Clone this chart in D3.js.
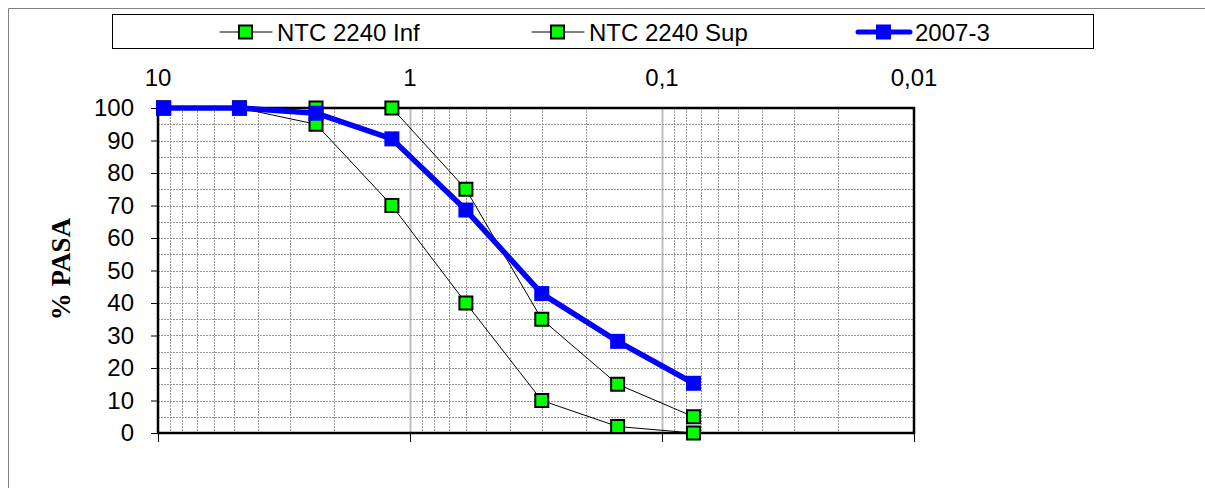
<!DOCTYPE html>
<html>
<head>
<meta charset="utf-8">
<script src="https://cdn.jsdelivr.net/npm/d3@7"></script>
<style>
  body { margin: 0; background: #fff; }
  svg { display: block; font-family: Arial, "Liberation Sans", sans-serif; }
</style>
</head>
<body>
<div id="vis"></div>
<script>
// sieve openings (mm) and % passing
var sieves = [9.5, 4.75, 2.36, 1.18, 0.6, 0.3, 0.15, 0.075];
var ntcInf = [100, 100, 95, 70, 40, 10, 2, 0];
var ntcSup = [100, 100, 100, 100, 75, 35, 15, 5];
var muestra = [100, 100, 98.4, 90.5, 68.6, 42.9, 28.2, 15.3];
var seriesNames = ["NTC 2240 Inf", "NTC 2240 Sup", "2007-3"];
var decadeTicks = [10, 1, 0.1, 0.01];
var decadeLabels = ["10", "1", "0,1", "0,01"];
var yTicks = [0, 10, 20, 30, 40, 50, 60, 70, 80, 90, 100];

var width = 1205, height = 488;
var plot = {left: 158, right: 914, top: 108, bottom: 433};

var svg = d3.select("#vis").append("svg")
    .attr("width", width)
    .attr("height", height);

var x = d3.scaleLog().domain([10, 0.01]).range([plot.left, plot.right]);
var y = d3.scaleLinear().domain([0, 100]).range([plot.bottom, plot.top]);

// outer chart frame (only top and left edges visible)
svg.append("path")
    .attr("d", "M8.5,488 L8.5,8.5 L1205,8.5")
    .attr("fill", "none")
    .attr("stroke", "#808080")
    .attr("stroke-width", 1);

// grid
var grid = svg.append("g");
var minor = [];
[1, 0.1, 0.01].forEach(function(dec){
    for (var k = 2; k <= 9; k++) minor.push(dec * k);
});
grid.selectAll(".vminor").data(minor).enter()
    .append("line")
    .attr("x1", function(d){ return Math.round(x(d)) + 0.5; })
    .attr("x2", function(d){ return Math.round(x(d)) + 0.5; })
    .attr("y1", plot.top).attr("y2", plot.bottom)
    .attr("stroke", "#9a9a9a")
    .attr("stroke-dasharray", "2,1");
grid.selectAll(".vmajor").data([1, 0.1]).enter()
    .append("line")
    .attr("x1", function(d){ return Math.round(x(d)) + 0.5; })
    .attr("x2", function(d){ return Math.round(x(d)) + 0.5; })
    .attr("y1", plot.top).attr("y2", plot.bottom)
    .attr("stroke", "#bdbdbd")
    .attr("stroke-width", 2);
grid.selectAll(".h").data(d3.range(5, 100, 5)).enter()
    .append("line")
    .attr("x1", plot.left).attr("x2", plot.right)
    .attr("y1", function(d){ return Math.round(y(d)) + 0.5; })
    .attr("y2", function(d){ return Math.round(y(d)) + 0.5; })
    .attr("stroke", "#9a9a9a")
    .attr("stroke-dasharray", "2,1");

// plot border
svg.append("rect")
    .attr("x", plot.left).attr("y", plot.top)
    .attr("width", plot.right - plot.left)
    .attr("height", plot.bottom - plot.top)
    .attr("fill", "none")
    .attr("stroke", "#000")
    .attr("stroke-width", 2.5);

// y axis
var yAxis = d3.axisLeft(y).tickValues(yTicks).tickSize(7).tickPadding(17);
var gy = svg.append("g")
    .attr("transform", "translate(" + plot.left + ",0)")
    .call(yAxis);
gy.select(".domain").remove();
gy.selectAll("text").attr("font-size", 24).attr("font-family", "Arial, 'Liberation Sans', sans-serif").attr("fill", "#000");

// x ticks at bottom (no labels), labels on top
var xAxis = d3.axisBottom(x).tickValues(decadeTicks).tickSize(9).tickFormat("");
var gx = svg.append("g")
    .attr("transform", "translate(0," + plot.bottom + ")")
    .call(xAxis);
gx.select(".domain").remove();

svg.selectAll(".xlab").data(decadeTicks).enter()
    .append("text")
    .attr("x", function(d){ return x(d); })
    .attr("y", 86)
    .attr("text-anchor", "middle")
    .attr("font-size", 24)
    .text(function(d, i){ return decadeLabels[i]; });

// y title
svg.append("text")
    .attr("transform", "translate(70,269) rotate(-90)")
    .attr("text-anchor", "middle")
    .attr("font-family", "'Liberation Serif', 'Times New Roman', serif")
    .attr("font-weight", "bold")
    .attr("font-size", 27)
    .text("% PASA");

// series
var line = d3.line()
    .x(function(d){ return x(d[0]); })
    .y(function(d){ return y(d[1]); });

function drawSeries(values, color, lw, fill, markerStroke, msize){
    var pts = sieves.map(function(s, i){ return [s, values[i]]; });
    var g = svg.append("g");
    g.append("path")
        .datum(pts)
        .attr("d", line)
        .attr("fill", "none")
        .attr("stroke", color)
        .attr("stroke-width", lw)
        .attr("stroke-linejoin", "round");
    g.selectAll("rect").data(pts).enter()
        .append("rect")
        .attr("x", function(d){ return x(d[0]) - msize / 2; })
        .attr("y", function(d){ return y(d[1]) - msize / 2; })
        .attr("width", msize).attr("height", msize)
        .attr("fill", fill)
        .attr("stroke", markerStroke)
        .attr("stroke-width", 2);
}
drawSeries(ntcInf, "#000", 1, "#00ff00", "#000", 13);
drawSeries(ntcSup, "#000", 1, "#00ff00", "#000", 13);
drawSeries(muestra, "#0000ff", 5.5, "#0000ff", "#0000ff", 13);

// legend
var legend = svg.append("g");
legend.append("rect")
    .attr("x", 112.5).attr("y", 14.5)
    .attr("width", 981).attr("height", 34)
    .attr("fill", "#fff")
    .attr("stroke", "#000");
var legendItems = [
    {name: seriesNames[0], x: 220, color: "#000", lw: 1, fill: "#00ff00", stroke: "#000"},
    {name: seriesNames[1], x: 532, color: "#000", lw: 1, fill: "#00ff00", stroke: "#000"},
    {name: seriesNames[2], x: 858, color: "#0000ff", lw: 5, fill: "#0000ff", stroke: "#0000ff"}
];
var li = legend.selectAll(".item").data(legendItems).enter()
    .append("g")
    .attr("transform", function(d){ return "translate(" + d.x + ",32)"; });
li.append("line")
    .attr("x1", 0).attr("x2", 52)
    .attr("stroke", function(d){ return d.color; })
    .attr("stroke-width", function(d){ return d.lw; })
    .attr("stroke-linecap", "round");
li.append("rect")
    .attr("x", 19).attr("y", -6.5)
    .attr("width", 13).attr("height", 13)
    .attr("fill", function(d){ return d.fill; })
    .attr("stroke", function(d){ return d.stroke; })
    .attr("stroke-width", 2);
li.append("text")
    .attr("x", 57)
    .attr("y", 9)
    .attr("font-size", 24)
    .text(function(d){ return d.name; });
</script>
</body>
</html>
